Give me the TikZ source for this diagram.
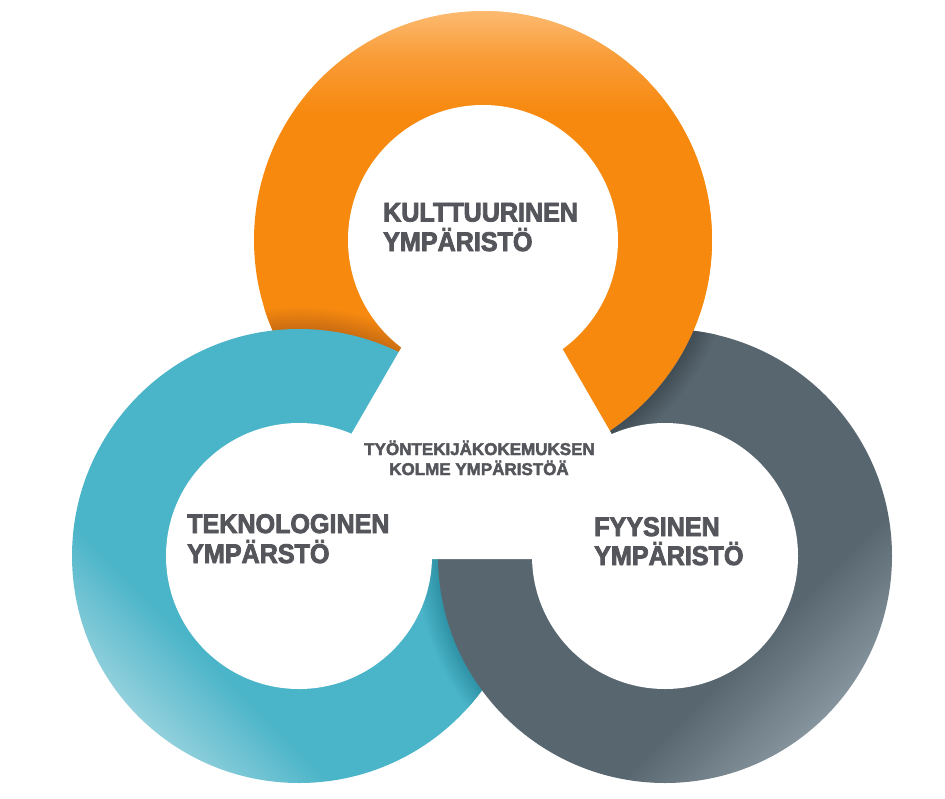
\documentclass[tikz,border=0pt]{standalone}
\usepackage{fontspec}
\newfontfamily\lblfont[FakeStretch=0.93,FakeBold=3]{Liberation Sans Bold}
\newfontfamily\midfont[FakeStretch=1.0,FakeBold=2.5]{Liberation Sans Bold}
\definecolor{orM}{HTML}{F7890F}
\definecolor{orMid}{HTML}{F99C38}
\definecolor{orL}{HTML}{FCBA70}
\definecolor{orSh}{HTML}{C96C12}
\definecolor{teM}{HTML}{4AB4C8}
\definecolor{teL}{HTML}{92D0DC}
\definecolor{teSh}{HTML}{2F92A6}
\definecolor{daM}{HTML}{58666F}
\definecolor{daL}{HTML}{86949D}
\definecolor{daSh}{HTML}{414D55}
\definecolor{txt}{HTML}{55565B}
\pgfdeclareverticalshading{orsh}{100bp}{color(0bp)=(orM); color(25bp)=(orM); color(64bp)=(orM); color(70bp)=(orMid); color(75bp)=(orL); color(100bp)=(orL)}
\pgfdeclareverticalshading{tesh}{100bp}{color(0bp)=(teL); color(25bp)=(teL); color(35bp)=(teM); color(100bp)=(teM)}
\pgfdeclareverticalshading{dksh}{100bp}{color(0bp)=(daL); color(25bp)=(daL); color(36bp)=(daM); color(100bp)=(daM)}
\pgfdeclareradialshading{shadowor}{\pgfpointorigin}{color(0bp)=(orM); color(22.6bp)=(orM); color(22.7bp)=(orSh); color(25bp)=(orM); color(50bp)=(orM)}
\pgfdeclareradialshading{shadowte}{\pgfpointorigin}{color(0bp)=(teM); color(22.6bp)=(teM); color(22.7bp)=(teSh); color(25bp)=(teM); color(50bp)=(teM)}
\pgfdeclareradialshading{shadowda}{\pgfpointorigin}{color(0bp)=(daM); color(22.6bp)=(daM); color(22.7bp)=(daSh); color(25bp)=(daM); color(50bp)=(daM)}
\tikzset{
  biglabel/.style={anchor=base west, inner sep=0pt, text=txt,
    font=\lblfont\fontsize{27}{30}\selectfont},
  midlabel/.style={anchor=base, inner sep=0pt, text=txt,
    font=\midfont\fontsize{17}{20}\selectfont},
}
\begin{document}
\begin{tikzpicture}[x=1pt,y=-1pt]
\fill[white] (0,0) rectangle (945,798);
\useasboundingbox (0,0) rectangle (945,798);
\coordinate (co) at (483,240);
\coordinate (ct) at (299,556);
\coordinate (cd) at (665,556);
% orange ring
\shade[shading=orsh] (co) circle[radius=229pt];
% shadow of teal on orange
\begin{scope}
  \clip (co) circle[radius=229pt];
  \shade[shading=shadowor] (ct) circle[radius=250pt];
\end{scope}
% teal ring over orange
\shade[shading=tesh, shading angle=-45] (ct) circle[radius=227pt];
% shadow of dark on teal
\begin{scope}
  \clip (ct) circle[radius=227pt];
  \clip (300,520) rectangle (945,798);
  \shade[shading=shadowte] (cd) circle[radius=250pt];
\end{scope}
% dark ring over teal
\shade[shading=dksh, shading angle=45] (cd) circle[radius=227pt];
% shadow of orange on dark, then orange over dark on the right
\begin{scope}
  \clip (483,0) rectangle (945,500);
  \begin{scope}
    \clip (cd) circle[radius=227pt];
    \shade[shading=shadowda] (co) circle[radius=252pt];
  \end{scope}
  \shade[shading=orsh] (co) circle[radius=229pt];
\end{scope}
% holes
\fill[white] (co) circle[radius=135pt];
\fill[white] (ct) circle[radius=133pt];
\fill[white] (cd) circle[radius=133pt];
% white central triangle
\fill[white] (481.5,209) -- (279,559) -- (684,559) -- cycle;
% labels
\node[biglabel] (k1) at (383,221.5) {KULTTUURINEN};
\node[biglabel] (k2) at (383,251) {YMPÄRISTÖ};
\node[biglabel] (t1) at (187,533) {TEKNOLOGINEN};
\node[biglabel] (t2) at (187,563) {YMPÄRSTÖ};
\node[biglabel] (f1) at (594,536) {FYYSINEN};
\node[biglabel] (f2) at (594,565) {YMPÄRISTÖ};
\node[midlabel] (c1) at (479.5,455) {TYÖNTEKIJÄKOKEMUKSEN};
\node[midlabel] (c2) at (479,475) {KOLME YMPÄRISTÖÄ};
\end{tikzpicture}
\end{document}
